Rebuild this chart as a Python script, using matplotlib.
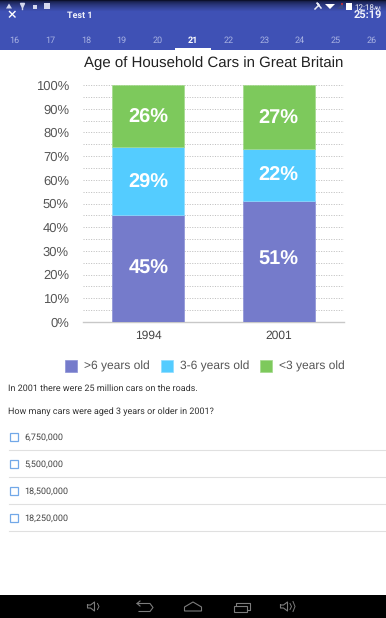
import numpy as np
import matplotlib
matplotlib.use('Agg')
import matplotlib.pyplot as plt
from matplotlib.patches import Rectangle, Polygon

years = ['1994', '2001']
over_6 = [45, 51]
from_3_to_6 = [29, 22]
under_3 = [26, 27]
series_names = ['>6 years old', '3-6 years old', '<3 years old']
series_colors = ['#757bcb', '#54ccff', '#7dc95c']
edge_colors = ['#8c91d6', '#8edcff', '#a3d98b']
tabs = ['16', '17', '18', '19', '20', '21', '22', '23', '24', '25', '26']
answers = ['6,750,000', '5,500,000', '18,500,000', '18,250,000']

# labels in the reference do not sit exactly mid-segment
label_nudge = [[0.8, 1.6], [0, 0.8], [0, 0]]

plt.rcParams['font.family'] = ['Liberation Sans', 'DejaVu Sans']
plt.rcParams['text.hinting'] = 'no_hinting'
plt.rcParams['text.hinting_factor'] = 1

fig = plt.figure(figsize=(3.86, 6.18), dpi=100, facecolor='white')

# screen chrome, in pixel coordinates
ui = fig.add_axes([0, 0, 1, 1])
ui.set_xlim(0, 386)
ui.set_ylim(618, 0)
ui.axis('off')

ui.add_patch(Rectangle((0, 0), 386, 50, color='#3f51b5', lw=0))
grad = (np.linspace(0, 1, 12) ** 0.6).reshape(-1, 1, 1)
top = np.array([0.05, 0.07, 0.18])
bottom = np.array([0.247, 0.318, 0.71])
ui.imshow(top + (bottom - top) * grad, extent=(0, 386, 12, 0), aspect='auto', zorder=1)
ui.set_xlim(0, 386)
ui.set_ylim(618, 0)

# status icons, left
ui.add_patch(Polygon([(6, 8.5), (12, 8.5), (9, 3.5)], color='#d5d8ee', lw=0, zorder=2))
ui.plot([22, 22], [4, 9], color='#d5d8ee', lw=1, zorder=2)
ui.plot([22], [4.5], 'v', ms=3, color='#d5d8ee', zorder=2)
ui.add_patch(Rectangle((32.5, 5), 4, 3.5, color='#d5d8ee', lw=0, zorder=2))
ui.add_patch(Rectangle((44, 3), 6, 6, color='#d5d8ee', lw=0, zorder=2))

# status icons, right
ui.plot([315, 319, 317, 321], [9, 5, 3, 8], color='#e8eaf6', lw=1.1, zorder=2)
ui.add_patch(Polygon([(325, 4), (335, 4), (330, 9)], color='white', lw=0, zorder=2))
ui.add_patch(Polygon([(337, 9), (343, 9), (343, 3)], color='#3d4a86', lw=0, zorder=2))
ui.add_patch(Rectangle((341, 3), 2, 2, color='#b03040', lw=0, zorder=2))
ui.add_patch(Rectangle((346, 3), 5.5, 7, color='white', lw=0, zorder=2))
ui.text(354, 9.5, '12:18', color='white', fontsize=6.1, family='Roboto', va='baseline', zorder=3)
ui.text(373.5, 9.5, 'AM', color='white', fontsize=3.9, family='Roboto', va='baseline', zorder=3)

ui.plot([9.5, 15], [11.5, 17], color='white', lw=1.0, zorder=3)
ui.plot([9.5, 15], [17, 11.5], color='white', lw=1.0, zorder=3)
ui.text(67, 18, 'Test 1', color='#f2f3fb', fontsize=6.8, family='Roboto', weight='bold', va='baseline', zorder=3)
ui.text(381.5, 18.5, '25:19', color='#f2f3fb', fontsize=7.7, family='Roboto', weight='bold', ha='right', va='baseline', zorder=3)

for i, t in enumerate(tabs):
    cx = 14.5 + i * 35.7
    if t == '21':
        ui.text(cx, 43, t, color='white', fontsize=6.5, family='Roboto', weight='bold', ha='center', va='baseline', zorder=3)
    else:
        ui.text(cx, 43, t, color='#a9b3e3', fontsize=6.5, family='Roboto', ha='center', va='baseline', zorder=3)
ui.add_patch(Rectangle((175, 48), 36, 2.5, color='white', lw=0, zorder=3))

# question text
ui.text(8, 391, 'In 2001 there were 25 million cars on the roads.', color='#333333',
        fontsize=6.2, family='Roboto', va='baseline')
ui.text(8, 414.5, 'How many cars were aged 3 years or older in 2001?', color='#333333',
        fontsize=6.2, family='Roboto', va='baseline')

for i, a in enumerate(answers):
    cy = 436.5 + i * 27
    ui.add_patch(Rectangle((9.5, cy - 4), 8.5, 8.5, fill=False, ec='#72a8e8', lw=0.9))
    ui.text(24.5, cy + 3, a, color='#444444', fontsize=6.3, family='Roboto', va='baseline')
    ui.plot([9, 386], [cy + 13, cy + 13], color='#e0e0e0', lw=0.8)

# nav bar
ui.add_patch(Rectangle((0, 595), 386, 23, color='black', lw=0, zorder=2))
nav = '#7c7c7c'
for x0 in [87.5, 280.5]:
    ui.plot([x0, x0 + 3, x0 + 7, x0 + 7, x0 + 3, x0, x0], [605, 605, 602, 611, 608, 608, 605],
            color=nav, lw=0.8, zorder=3)
ui.plot([97.5, 99, 97.5], [603.5, 606.5, 609.5], color=nav, lw=0.7, zorder=3)
ui.plot([290, 291.5, 290], [603.5, 606.5, 609.5], color=nav, lw=0.7, zorder=3)
ui.plot([293, 295, 293], [601.5, 606.5, 611.5], color=nav, lw=0.7, zorder=3)
ui.plot([137, 150, 153, 150, 139], [603.5, 603.5, 607.5, 611.5, 611.5], color=nav, lw=0.8, zorder=3)
ui.plot([140, 137, 140], [601, 603.5, 606], color=nav, lw=0.8, zorder=3)
ui.add_patch(Polygon([(184.5, 607), (193, 602), (201.5, 607), (201.5, 611), (184.5, 611)],
                     fill=False, ec=nav, lw=0.8, zorder=3))
ui.add_patch(Rectangle((233.5, 605.5), 13, 6, fill=False, ec=nav, lw=0.8, zorder=3))
ui.plot([236, 236, 249.5, 249.5, 247], [605, 603, 603, 609.5, 609.5], color=nav, lw=0.8, zorder=3)

# chart
ax = fig.add_axes([83 / 386, (618 - 322) / 618, 261 / 386, 237 / 618])
ax.patch.set_alpha(0)
x = np.arange(len(years))
bar_w = 0.555
base = np.zeros(len(years))
groups = [over_6, from_3_to_6, under_3]
handles = []
for vals, name, col, ec, nudge in zip(groups, series_names, series_colors, edge_colors, label_nudge):
    bars = ax.bar(x, vals, bar_w, bottom=base, color=col, edgecolor=ec, linewidth=0.5, label=name, zorder=3)
    handles.append(bars)
    for xi, b, v, n in zip(x, base, vals, nudge):
        ax.text(xi, b + v / 2 + n, '%d%%' % v, color='white', fontsize=14.2, weight='bold',
                ha='center', va='center_baseline', zorder=4)
    base = base + np.array(vals)

ax.set_xlim(-0.5, 1.5)
ax.set_ylim(0, 100)
ax.set_xticks(x)
ax.set_xticklabels(years)
ax.set_yticks(np.arange(0, 101, 10))
ax.set_yticklabels(['%d%%' % v for v in range(0, 101, 10)])
ax.set_yticks(np.arange(5, 100, 10), minor=True)
ax.tick_params(axis='both', which='both', length=0)
ax.tick_params(axis='y', labelsize=9.0, labelcolor='#555555', pad=10.1)
ax.tick_params(axis='x', labelsize=8.8, labelcolor='#444444', pad=6)
ax.grid(axis='y', which='both', color='#bcbcbc', lw=0.65, ls=(0, (1.2, 1.6)), zorder=1)
for s in ['top', 'left', 'right']:
    ax.spines[s].set_visible(False)
ax.spines['bottom'].set_color('#c8c8c8')
ax.spines['bottom'].set_linewidth(1)
ax.set_axisbelow(True)

fig.text(213.5 / 386, 1 - 63.5 / 618, 'Age of Household Cars in Great Britain', color='#222222',
         fontsize=10.75, ha='center', va='center')

leg = fig.legend(handles=handles, loc='center', bbox_to_anchor=(205 / 386, 1 - 366 / 618), ncol=3,
                 frameon=False, fontsize=8.95, labelcolor='#555555', handlelength=0.95, handleheight=1.15,
                 handletextpad=0.58, columnspacing=0.9, borderpad=0, borderaxespad=0)

fig.savefig('out.png', dpi=100)
